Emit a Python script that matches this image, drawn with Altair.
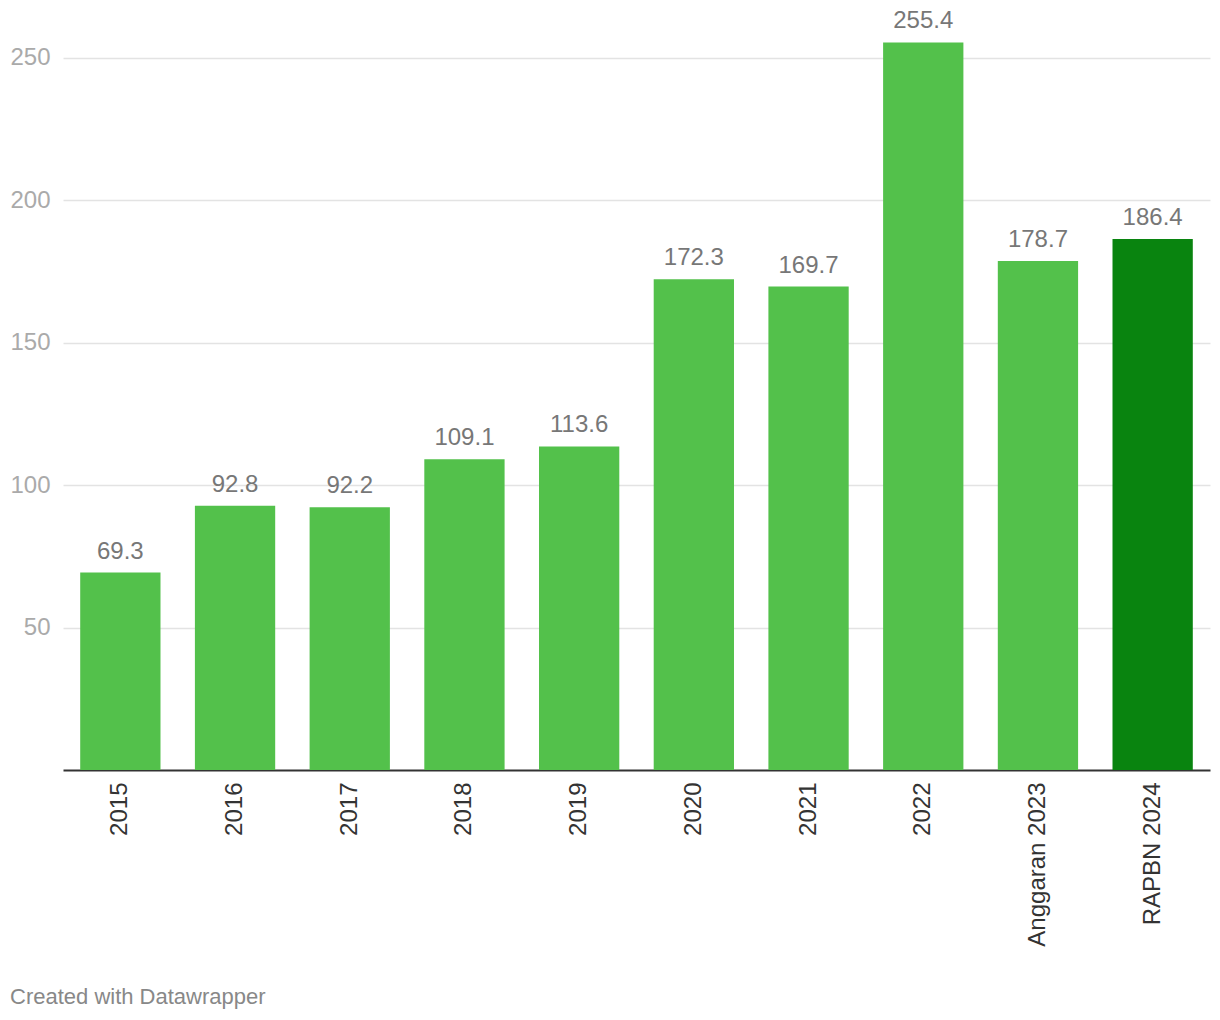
import altair as alt
import pandas as pd

categories = ["2015", "2016", "2017", "2018", "2019", "2020", "2021", "2022",
              "Anggaran 2023", "RAPBN 2024"]
values = [69.3, 92.8, 92.2, 109.1, 113.6, 172.3, 169.7, 255.4, 178.7, 186.4]
highlight = ["no", "no", "no", "no", "no", "no", "no", "no", "no", "yes"]
y_ticks = [50, 100, 150, 200, 250]
footer = ["Created with Datawrapper"]

df = pd.DataFrame({"cat": categories, "val": values, "hl": highlight})
df["label"] = [f"{v:.1f}" for v in values]

FONT = "Liberation Sans"

x_enc = alt.X("cat:N", sort=categories, title=None,
              scale=alt.Scale(paddingInner=0.3, paddingOuter=0.15),
              axis=alt.Axis(labelAngle=270, labelAlign="right", labelBaseline="middle",
                            labelFontSize=24, labelColor="#333333", labelFont=FONT,
                            labelPadding=12, ticks=False, domainColor="#333333",
                            domainWidth=2, grid=False))
y_scale = alt.Scale(domain=[0, 267.5], nice=False, zero=True)

bars = alt.Chart(df).mark_bar().encode(
    x=x_enc,
    y=alt.Y("val:Q", title=None, scale=y_scale,
            axis=alt.Axis(values=y_ticks, labelFontSize=24, labelColor="#aaaaaa",
                          labelFont=FONT, labelPadding=13, ticks=False, domain=False,
                          grid=True, gridColor="#e3e3e3", gridWidth=1.3)),
    color=alt.Color("hl:N", scale=alt.Scale(domain=["no", "yes"],
                                            range=["#53c14b", "#09840f"]), legend=None),
)

labels = alt.Chart(df).mark_text(baseline="bottom", dy=-9, fontSize=24,
                                 color="#777777", font=FONT).encode(
    x=alt.X("cat:N", sort=categories),
    y=alt.Y("val:Q", scale=y_scale),
    text="label:N",
)

foot = alt.Chart(pd.DataFrame({"t": footer})).mark_text(
    align="left", baseline="middle", fontSize=22, color="#888888", font=FONT
).encode(x=alt.value(-53), y=alt.value(989), text="t:N")

chart = alt.layer(bars, labels, foot).properties(
    width=1147, height=762,
    background="white",
    autosize=alt.AutoSizeParams(type="none"),
    padding={"left": 55, "top": 0, "right": 2, "bottom": 240},
).configure_view(strokeWidth=0)

chart.save("out.html", embed_options={"renderer": "svg", "actions": False})
